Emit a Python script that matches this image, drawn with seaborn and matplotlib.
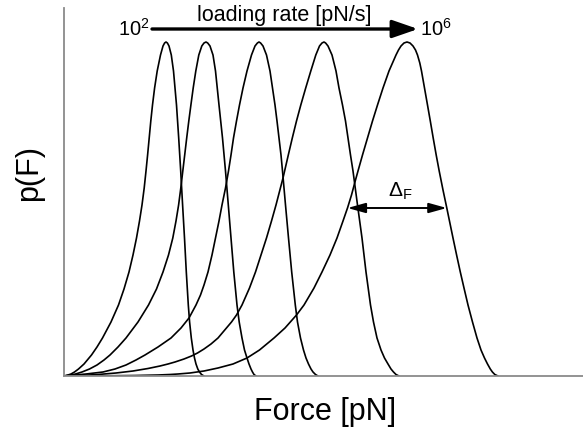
import matplotlib
matplotlib.use("Agg")
import matplotlib.pyplot as plt
import seaborn as sns
import pandas as pd

# Rupture-force distributions p(F) for five loading rates (10^2 ... 10^6 pN/s).
# Force in arbitrary pN units, p(F) in arbitrary units (peak = 334).
force_r2 = [0, 4, 7, 10.5, 14.5, 20, 27.5, 33, 38.5, 47, 54.5, 60, 65, 69, 72.5, 75.5,
            78, 80.2, 82, 83.6, 85.2, 86.8, 88.5, 90.6, 93.2, 96.5, 99, 100.6, 102,
            103.4, 105, 107.3, 109.5, 112.5, 114.7, 116.7, 118.6, 120.5, 122.3,
            124.3, 125.6, 127.3, 129, 130.5, 132, 133.8, 135.5, 137.5, 140]
dens_r2 = [0, 1, 2, 4, 7, 12, 21, 29, 38, 54, 71, 87, 104, 121, 138, 155,
           171, 188, 205, 221, 238, 255, 271, 288, 305, 321, 330, 333, 334,
           333, 330, 321, 305, 271, 238, 205, 171, 138, 104,
           71, 54, 38, 26, 18, 12, 7, 4, 1.5, 0]

force_r3 = [0, 7, 11.5, 18, 25.5, 33, 40, 46, 54, 62, 74, 84.5, 92.5, 99, 104.5, 108.8,
            112, 114.6, 116.8, 118.8, 120.7, 122.7, 124.8, 126.9, 129.2, 131.8, 134.8,
            137.8, 140, 142,
            143.7, 146, 149, 151.5, 155, 158.5, 161.5, 164.3, 167, 169.8,
            173, 175.2, 178, 180.5, 183, 185, 187, 188.5, 190, 192]
dens_r3 = [0, 1, 2, 4, 7, 11, 16, 21, 29, 38, 54, 71, 87, 104, 121, 138,
           155, 171, 188, 205, 221, 238, 255, 271, 288, 305, 321,
           330, 333, 334,
           333, 330, 321, 305, 271, 238, 205, 171, 138, 104,
           71, 54, 38, 26, 18, 12, 7, 4, 1.5, 0]

force_r4 = [0, 11, 22, 39, 51, 62, 72, 81, 94, 107, 117, 125, 132, 136.5, 140, 144,
            148, 151.5, 155, 158, 161.5, 164.5, 167, 169.5, 172.5, 175.5, 179, 183,
            187.5, 191, 193.4, 195,
            196.6, 199, 202.5, 206, 208.5, 211, 213, 215, 217, 218.5,
            221.5, 224.5, 227.7, 231.3, 233.5, 236.5, 239.5, 242, 244.5, 247,
            249, 251.5, 254]
dens_r4 = [0, 1, 2, 4, 7, 11, 16, 21, 29, 38, 48, 58, 71, 81, 91, 104,
           121, 138, 155, 171, 188, 205, 221, 238, 255, 271, 288, 305,
           321, 330, 333, 334,
           333, 330, 321, 305, 288, 271, 255, 238, 221, 205,
           171, 138, 104, 71, 54, 38, 26, 18, 12, 7,
           4, 1.5, 0]

force_r5 = [0, 16, 34, 52, 69, 84, 96, 104, 111, 120, 127.5, 133.5, 140, 147, 154,
            167.5, 172.5, 178, 185.5, 191.5, 197, 202.5, 207.5, 212, 219, 224.3,
            228.3, 232.5, 236.8, 241.7, 246.8, 251.8, 255.5, 258, 260,
            261.6, 264, 268, 272, 275, 278.5, 281.5, 284, 286.5, 289,
            293.5, 298, 302, 306.5, 309.5, 313, 317, 320.5, 324, 327,
            329.5, 332, 335]
dens_r5 = [0, 0.5, 1.5, 3, 5, 7.5, 10, 12, 14, 17, 20, 23, 27, 32, 38,
           54, 61, 71, 88, 104, 121, 138, 155, 171, 198, 221,
           238, 255, 271, 288, 305, 321, 330, 333, 334,
           333, 330, 321, 305, 288, 271, 255, 238, 221, 205,
           171, 138, 104, 71, 54, 38, 26, 18, 12, 7,
           4, 1.5, 0]

force_r6 = [0, 41, 71, 94, 106, 114, 126, 140, 154, 169, 183, 195.5, 210, 221, 232.5, 240,
            250, 258, 266, 273, 279, 283.5, 287.5, 291.5, 294, 298.5, 303.5, 308.5,
            313.5, 319, 325, 328.5, 332, 334.5, 337, 340, 343,
            346, 349, 351.5, 353.5, 355.8, 357.5, 360.5, 363.5, 366.3, 369.2,
            372.2, 375.2, 379, 382.8, 389, 392.6, 396.3, 400, 404, 408.5,
            413, 417, 420.5, 423.5, 426.3, 428.4, 430.8, 434]
dens_r6 = [0, 0.2, 0.5, 1, 1.5, 2, 3, 5, 8, 12, 18, 26, 38, 48, 61, 71,
           88, 104, 121, 138, 155, 168, 181, 196, 205, 221, 238, 255,
           271, 288, 305, 313, 321, 326, 330, 333, 334,
           333, 330, 326, 321, 313, 305, 288, 271, 255, 238,
           221, 205, 186, 168, 138, 121, 104, 88, 71, 54,
           38, 26, 18, 12, 7, 4, 1.5, 0]

curves = [(force_r2, dens_r2), (force_r3, dens_r3), (force_r4, dens_r4),
          (force_r5, dens_r5), (force_r6, dens_r6)]
rate_labels = ["1e2", "1e3", "1e4", "1e5", "1e6"]

# Width marker on the fastest-loading distribution
delta_level = 168
delta_left, delta_right = 283.5, 382.8

sns.set_theme(style="white")
plt.rcParams["font.family"] = ["Liberation Sans", "DejaVu Sans"]
plt.rcParams["text.color"] = "black"
plt.rcParams["mathtext.fontset"] = "custom"
plt.rcParams["mathtext.rm"] = "Liberation Sans"
plt.rcParams["mathtext.it"] = "Liberation Sans"

W, H = 583, 432
fig = plt.figure(figsize=(W / 100, H / 100), dpi=100)
ax = fig.add_axes([64 / W, 56 / H, 519 / W, 368 / H])

frames = []
for lab, (f, d) in zip(rate_labels, curves):
    frames.append(pd.DataFrame({"force": f, "p": d, "rate": lab}))
df = pd.concat(frames, ignore_index=True)

for lab in rate_labels:
    sub = df[df["rate"] == lab]
    sns.lineplot(data=sub, x="force", y="p", sort=False, estimator=None,
                 color="black", linewidth=1.2, ax=ax, legend=False)

ax.set_xlim(0, 519)
ax.set_ylim(0, 368)
ax.set_xticks([])
ax.set_yticks([])
ax.set_xlabel("")
ax.set_ylabel("")
for side in ("top", "right"):
    ax.spines[side].set_visible(False)
for side in ("left", "bottom"):
    ax.spines[side].set_color("#8a8a8a")
    ax.spines[side].set_linewidth(1.3)

# Loading-rate arrow
ax.annotate("", xy=(354, 347), xytext=(88, 347), annotation_clip=False,
            arrowprops=dict(arrowstyle="-|>,head_length=1.3,head_width=0.45",
                            color="black", lw=2.4, shrinkA=0, shrinkB=0))
ax.text(220, 360, "loading rate [pN/s]", ha="center", va="center",
        fontsize=15.5, clip_on=False)
ax.text(86, 340, r"$10^2$", ha="right", va="baseline", fontsize=14.5, clip_on=False)
ax.text(356, 340, r"$10^6$", ha="left", va="baseline", fontsize=14.5, clip_on=False)

# Width of the distribution
ax.annotate("", xy=(delta_right, delta_level), xytext=(delta_left, delta_level),
            arrowprops=dict(arrowstyle="<|-|>,head_length=0.9,head_width=0.25",
                            color="black", lw=1.4, shrinkA=0, shrinkB=0))
ax.text(324, 179, r"$\Delta_\mathrm{F}$", ha="left", va="baseline", fontsize=15)

fig.text(325 / W, 1 - 412 / H, "Force [pN]", ha="center", va="center", fontsize=22)
fig.text(29 / W, 1 - 173 / H, "p(F)", ha="center", va="center", rotation=90,
         fontsize=22)

fig.savefig("out.png", dpi=100)
